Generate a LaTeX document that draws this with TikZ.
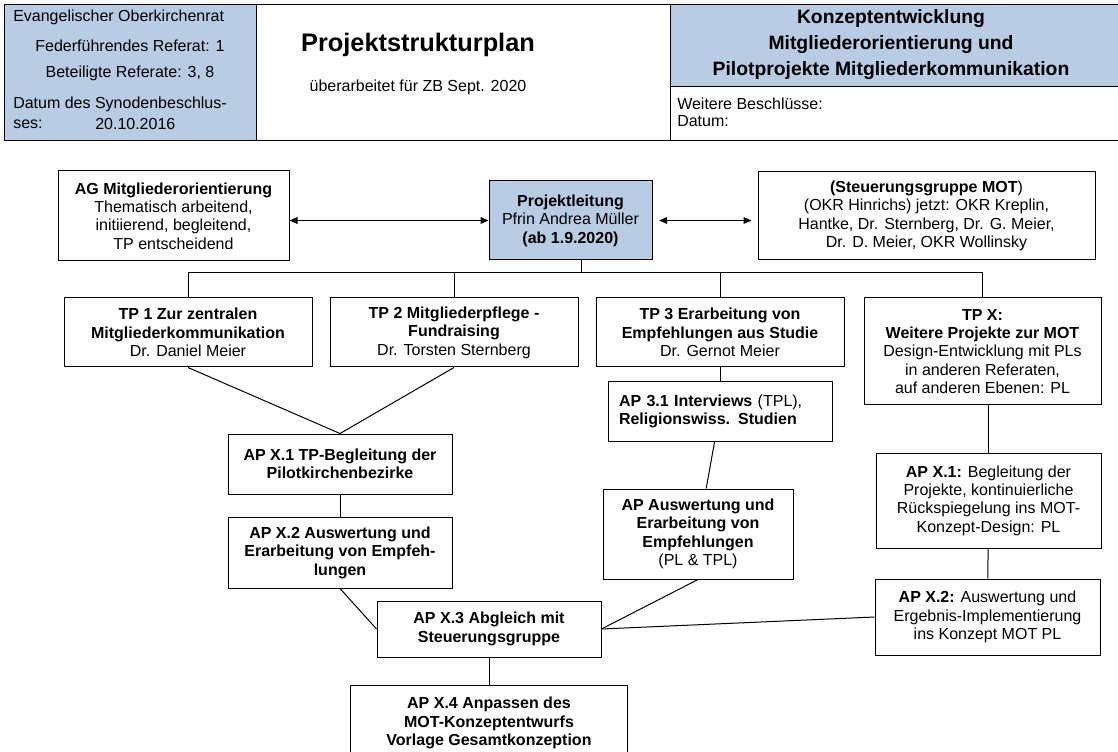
\documentclass[tikz,border=0pt]{standalone}
\usepackage{fontspec}
\setmainfont{Liberation Sans}
\usepackage{tikz}
\usetikzlibrary{arrows.meta,positioning}
\usepackage{xcolor}
\definecolor{hdblue}{RGB}{184,204,228}

\begin{document}
\begin{tikzpicture}[
  x=0.75pt, y=-0.75pt,
  node distance=12.75pt and 12.75pt,
  txt/.style={font=\fontsize{12}{13.8}\selectfont,inner sep=0pt},
  box/.style={draw,line width=0.75pt,align=center,font=\fontsize{12}{13.8}\selectfont,inner sep=2pt},
  tpbox/.style={box,minimum width=186pt,minimum height=51.75pt},
  apbox/.style={box,minimum width=168pt},
  biarrow/.style={{Triangle[length=6pt,width=5pt]}-{Triangle[length=6pt,width=5pt]},line width=0.75pt},
  link/.style={line width=0.75pt}
]
\useasboundingbox (0,0) rectangle (1118,752);
\clip (0,0) rectangle (1118,752);
% header table
\fill[hdblue] (4,5) rectangle (256,141);
\fill[hdblue] (670,5) rectangle (1125,87);
\draw[link] (4,5) rectangle (1125,141);
\draw[link] (256,5) -- (256,141);
\draw[link] (670,5) -- (670,141);
\draw[link] (670,87) -- (1125,87);
\node[txt,anchor=west] (evok) at (13,17) {Evangelischer Oberkirchenrat};
\node[txt] (fref) at (130,46) {Federführendes Referat: 1};
\node[txt] (bref) at (130,73) {Beteiligte Referate: 3, 8};
\node[txt,anchor=west] (sdatum) at (13,104) {Datum des Synodenbeschlus-};
\node[txt,anchor=west] (sses) at (13,124) {ses:};
\node[txt,anchor=west] (sdate) at (95,124) {20.10.2016};
\node[font=\bfseries\fontsize{19}{23}\selectfont] (title) at (418,45) {Projektstrukturplan};
\node[txt] (subtitle) at (418,87) {überarbeitet für ZB Sept. 2020};
\node[align=center,font=\bfseries\fontsize{14.5}{19.5}\selectfont] (konz) at (891,45) {Konzeptentwicklung\\Mitgliederorientierung und\\Pilotprojekte Mitgliederkommunikation};
\node[txt,align=left,anchor=west,font=\fontsize{12}{12.75}\selectfont] (beschl) at (677,112) {Weitere Beschlüsse:\\Datum:};

% top row
\node[box,minimum width=173.25pt,minimum height=67.5pt] (ag) at (173.5,216) {\textbf{AG Mitgliederorientierung}\\Thematisch arbeitend,\\initiierend, begleitend,\\TP entscheidend};
\node[box,fill=hdblue,minimum width=122.25pt,minimum height=59.25pt] (pl) at (570.5,220.5) {\textbf{Projektleitung}\\Pfrin Andrea Müller\\\textbf{(ab 1.9.2020)}};
\node[box,minimum width=252.75pt,minimum height=66pt] (steu) at (926.5,216) {\textbf{(Steuerungsgruppe MOT})\\(OKR Hinrichs) jetzt: OKR Kreplin,\\Hantke, Dr. Sternberg, Dr. G. Meier,\\Dr. D. Meier, OKR Wollinsky};
\draw[biarrow] (ag.east |- pl.west) -- (pl.west);
\draw[biarrow,shorten <=5pt,shorten >=4.5pt] (pl.east) -- (pl.east -| steu.west);
\coordinate (bus) at (581,273);
\draw[link] (pl.south -| bus) -- (bus);

% sub projects
\node[tpbox] (tp1) at (188,332.5) {\textbf{TP 1 Zur zentralen}\\\textbf{Mitgliederkommunikation}\\Dr. Daniel Meier};
\node[tpbox,right=of tp1] (tp2) {\textbf{TP 2 Mitgliederpflege -}\\\textbf{Fundraising}\\Dr. Torsten Sternberg};
\node[tpbox,right=of tp2] (tp3) {\textbf{TP 3 Erarbeitung von}\\\textbf{Empfehlungen aus Studie}\\Dr. Gernot Meier};
\node[box,minimum width=177.75pt,minimum height=80.25pt,below right=0pt and 14.25pt of tp3.north east] (tpx) {\textbf{TP X:}\\\textbf{Weitere Projekte zur MOT}\\Design-Entwicklung mit PLs\\in anderen Referaten,\\auf anderen Ebenen: PL};
\draw[link] (tp1.north) |- (tpx.north |- bus) -- (tpx.north);
\draw[link] (tp2.north) -- (tp2.north |- bus);
\draw[link] (tp3.north) -- (tp3.north |- bus);

% work packages
\node[apbox,minimum height=45pt] (apx1) at (340,464) {\textbf{AP X.1 TP-Begleitung der}\\\textbf{Pilotkirchenbezirke}};
\node[apbox,minimum height=53.25pt,below=16.5pt of apx1] (apx2) {\textbf{AP X.2 Auswertung und}\\\textbf{Erarbeitung von Empfeh-}\\\textbf{lungen}};
\node[apbox,minimum height=42pt] (apx3) at (489,629) {\textbf{AP X.3 Abgleich mit}\\\textbf{Steuerungsgruppe}};
\node[box,minimum width=207.75pt,minimum height=57pt,below=20.25pt of apx3] (apx4) {\textbf{AP X.4 Anpassen des}\\\textbf{MOT-Konzeptentwurfs}\\\textbf{Vorlage Gesamtkonzeption}};
\node[apbox,minimum height=44.25pt,align=left,text width=151.5pt,below=10.5pt of tp3] (ap31) {\textbf{AP 3.1 Interviews} (TPL),\\\textbf{Religionswiss. Studien}};
\node[box,minimum width=142.5pt,minimum height=67.5pt,below=35.25pt of ap31,xshift=-16.5pt] (apausw) {\textbf{AP Auswertung und}\\\textbf{Erarbeitung von}\\\textbf{Empfehlungen}\\(PL \& TPL)};
\node[apbox,minimum width=168.75pt,minimum height=71.25pt,below=35.25pt of tpx,xshift=4.5pt] (apx1r) {\textbf{AP X.1:} Begleitung der\\Projekte, kontinuierliche\\Rückspiegelung ins MOT-\\Konzept-Design: PL};
\node[apbox,minimum width=168.75pt,minimum height=57pt,below=22.5pt of apx1r,xshift=-0.75pt] (apx2r) {\textbf{AP X.2:} Auswertung und\\Ergebnis-Implementierung\\ins Konzept MOT PL};

\draw[link] (tp1.south) -- (apx1.north);
\draw[link] (tp2.south) -- (apx1.north);
\draw[link] (apx1) -- (apx2);
\draw[link] (apx2.south) -- (apx3.west);
\draw[link] (apx3) -- (apx4);
\draw[link] (tp3) -- (ap31);
\draw[link] (ap31) -- (apausw);
\draw[link] (apausw.south) -- (apx3.east);
\draw[link] (tpx.south -| apx1r.north) -- (apx1r.north);
\draw[link] (apx1r) -- (apx2r);
\draw[link] (apx2r.west) -- (apx3.east);
\end{tikzpicture}
\end{document}
